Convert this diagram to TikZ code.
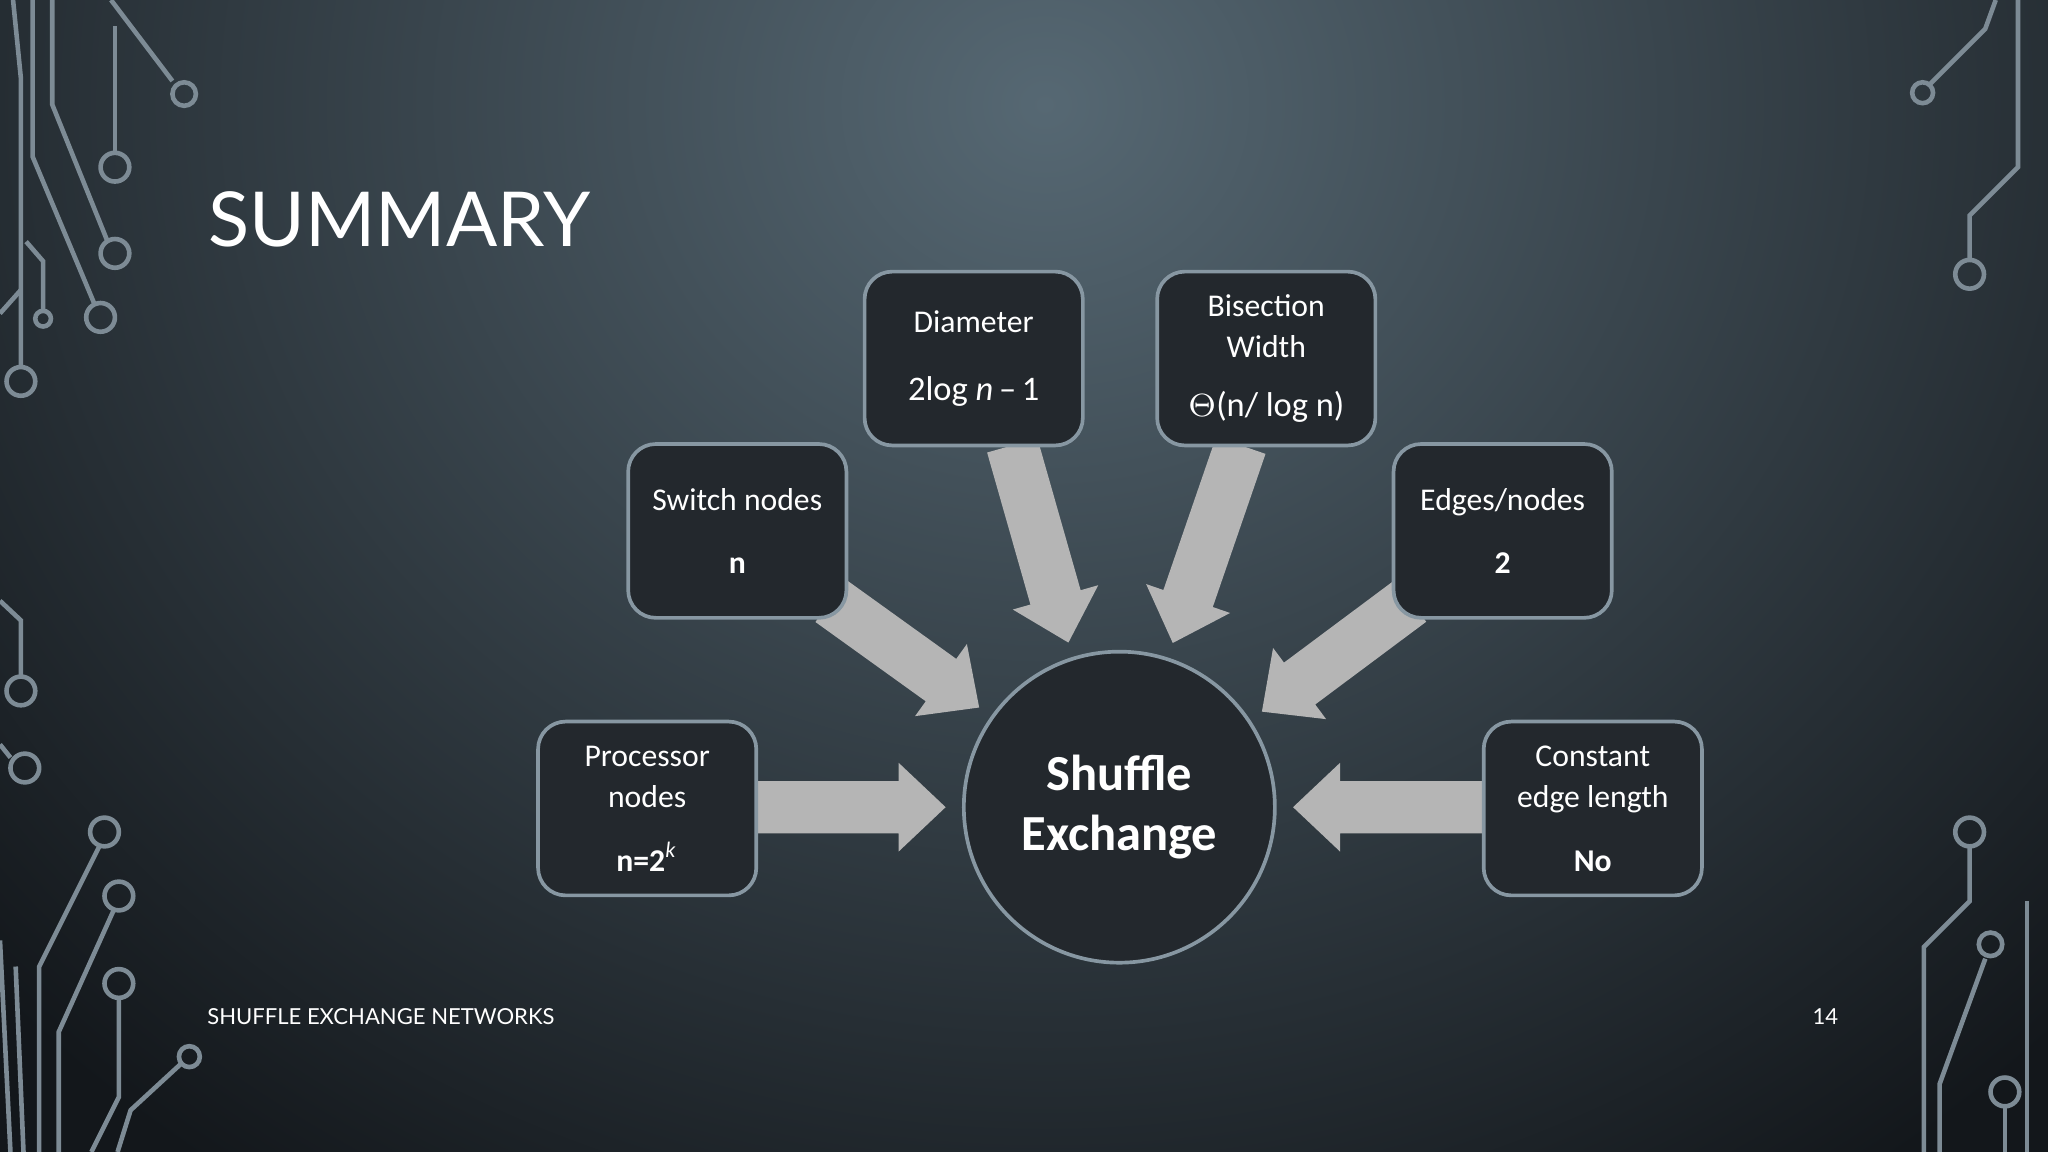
\documentclass[tikz,border=0pt]{standalone}
\usepackage{fontspec}
\setmainfont{Carlito}
\newfontfamily\titlefont{Lato}
\usetikzlibrary{shadings}
\definecolor{bgc}{HTML}{566873}
\definecolor{bgbot}{HTML}{13171B}
\definecolor{boxfill}{HTML}{23282D}
\definecolor{boxline}{HTML}{8797A2}
\definecolor{arr}{HTML}{B5B5B5}
\definecolor{circ}{HTML}{7D8B95}
\tikzset{
  infobox/.style={draw=boxline,line width=0.8pt,fill=boxfill,rounded corners=6pt,
    minimum width=1.67cm,minimum height=1.33cm,text=white,align=center,font=\fontsize{6.9pt}{8.9pt}\selectfont,inner sep=0pt},
  wire/.style={draw=circ,line width=1pt},
  pad/.style={draw=circ,line width=1pt}
}
\newcommand{\blockarrow}[4]{% x,y,angle,length
  \begin{scope}[shift={(#1,#2)},rotate=#3]
    \fill[arr] (0,-20)--(#4-36,-20)--(#4-36,-34)--(#4,0)--(#4-36,34)--(#4-36,20)--(0,20)--cycle;
  \end{scope}}
\begin{document}
\begin{tikzpicture}[x=0.01cm,y=-0.01cm]
\useasboundingbox (0,0) rectangle (1568,882);
\begin{scope}
\clip (0,0) rectangle (1568,882);
\fill[bgbot] (0,0) rectangle (1568,882);
\shade[inner color=bgc,outer color=bgbot] (800,80) ellipse (1100 and 1000);
\end{scope}
% circuit decorations
\draw[wire] (85,0)--(132,62); \draw[pad] (141,72) circle (9);
\draw[wire] (88,20)--(88,117); \draw[pad] (88,128) circle (11);
\draw[wire] (40,0)--(40,80)--(82,184); \draw[pad] (88,194) circle (11);
\draw[wire] (25,0)--(25,120)--(72,232); \draw[pad] (77,243) circle (11);
\draw[wire] (20,185)--(33,200)--(33,238); \draw[pad] (33,244) circle (6);
\draw[wire] (10,0)--(16,60)--(16,280); \draw[pad] (16,292) circle (11);
\draw[wire] (0,240)--(16,222);
\draw[wire] (0,460)--(16,475)--(16,518); \draw[pad] (16,529) circle (11);
\draw[wire] (0,570)--(8,580); \draw[pad] (19,588) circle (11);
\draw[wire] (76,648)--(30,740)--(30,882); \draw[pad] (80,637) circle (11);
\draw[wire] (87,697)--(45,790)--(45,882); \draw[pad] (91,686) circle (11);
\draw[wire] (91,764)--(91,840)--(70,882); \draw[pad] (91,753) circle (11);
\draw[wire] (138,815)--(100,850)--(90,882); \draw[pad] (145,809) circle (8);
\draw[wire] (0,720)--(8,882); \draw[wire] (12,740)--(18,882);
\draw[wire] (1478,64)--(1520,22)--(1528,0); \draw[pad] (1472,71) circle (8);
\draw[wire] (1508,199)--(1508,165)--(1545,128)--(1545,0); \draw[pad] (1508,210) circle (11);
\draw[wire] (1508,648)--(1508,690)--(1473,725)--(1473,882); \draw[pad] (1508,637) circle (11);
\draw[wire] (1520,734)--(1485,830)--(1485,882); \draw[pad] (1524,723) circle (9);
\draw[wire] (1535,848)--(1535,882); \draw[pad] (1535,836) circle (11);
\draw[wire] (1552,690)--(1552,882);
% title and footer
\node[anchor=west,inner sep=0pt,text=white,font=\titlefont\fontsize{16.5pt}{18pt}\selectfont] (title) at (159,168) {SUMMARY};
\node[anchor=west,inner sep=0pt,text=white,font=\titlefont\fontsize{4.8pt}{6pt}\selectfont] (foot) at (158,778) {SHUFFLE EXCHANGE NETWORKS};
\node[anchor=east,inner sep=0pt,text=white,font=\titlefont\fontsize{4.8pt}{6pt}\selectfont] (num) at (1408,778) {14};
% arrows
\blockarrow{580}{618}{0}{144}
\blockarrow{1136}{618}{180}{146}
\blockarrow{636}{460}{-35.7}{140}
\blockarrow{775}{341}{-74.1}{157}
\blockarrow{950}{341}{-109}{160}
\blockarrow{1080}{460}{-143.3}{142}
% boxes
\node[infobox] (diam) at (745.5,274.5) {Diameter\\[6pt]\fontsize{7.5pt}{9pt}\selectfont 2log \emph{n}\,--\,1};
\node[infobox] (bis) at (969.5,274.5) {Bisection\\Width\\[4pt]\fontsize{7.5pt}{9pt}\selectfont \textbf{$\Theta$}(n/ log n)};
\node[infobox] (sw) at (564.5,406.5) {Switch nodes\\[5pt]\textbf{n}};
\node[infobox] (edg) at (1150.5,406.5) {Edges/nodes\\[5pt]\textbf{2}};
\node[infobox] (proc) at (495.5,619) {Processor\\nodes\\[5pt]\textbf{n=2}\textsuperscript{\textit{k}}};
\node[infobox] (const) at (1219.5,619) {Constant\\edge length\\[5pt]\textbf{No}};
\node[circle,draw=boxline,line width=0.8pt,fill=boxfill,minimum size=2.38cm,text=white,align=center,
  font=\bfseries\fontsize{11pt}{13pt}\selectfont] (se) at (857,618) {Shuffle\\Exchange};
\end{tikzpicture}
\end{document}
